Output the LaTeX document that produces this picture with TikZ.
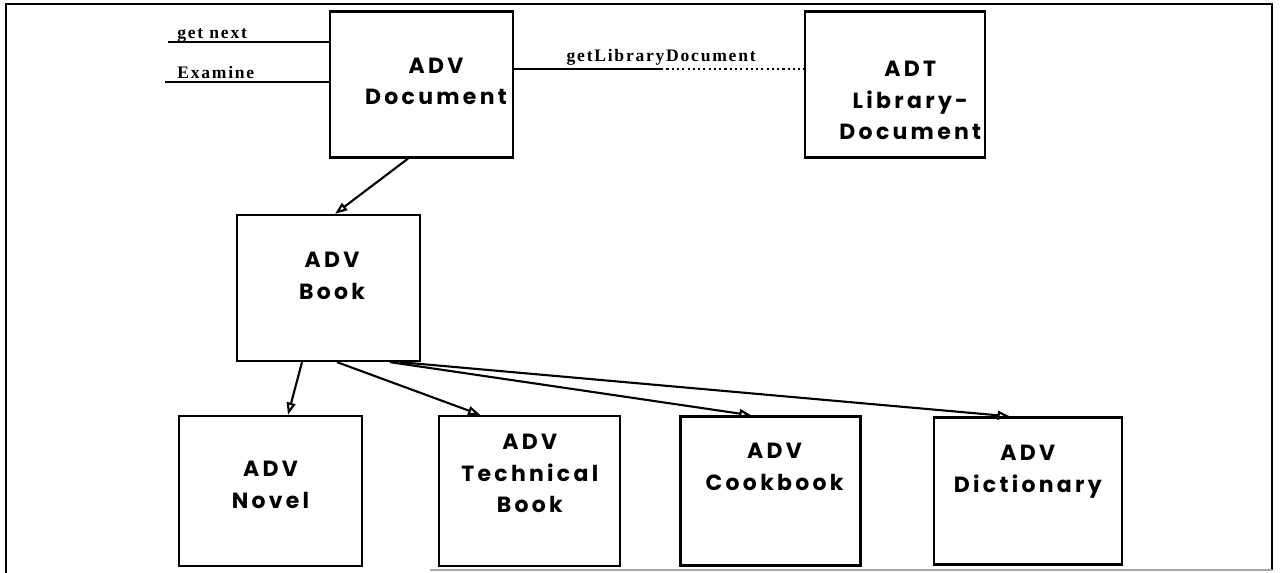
\documentclass[tikz,border=0pt]{standalone}
\usepackage{fontspec}
\setmainfont{Liberation Serif}
\newfontfamily\boxfont{Poppins}[LetterSpace=15]
\newfontfamily\callfont{Liberation Serif}[LetterSpace=10]
\usetikzlibrary{arrows.meta,positioning}

\begin{document}
\begin{tikzpicture}[
  box/.style={draw, line width=1.3pt, minimum width=3.66cm, minimum height=2.92cm},
  boxtext/.style={align=center, inner sep=0pt, font=\boxfont\bfseries\fontsize{12.5}{18}\selectfont},
  call/.style={font=\callfont\bfseries\fontsize{10}{12}\selectfont, inner sep=0pt, anchor=base west},
  wire/.style={line width=1.1pt},
  arr/.style={-{Triangle[open, length=7pt, width=5pt]}, line width=1.2pt},
  frame/.style={line width=1.1pt}
]

\useasboundingbox (0,0) rectangle (25.6,11.46);

\draw[frame] (0.12,0) -- (0.12,11.38) -- (25.44,11.38) -- (25.44,0.06);
\draw[frame, gray!70, line width=0.6pt] (8.6,0.06) -- (25.44,0.06);

% upper row
\node[box] (doc) at (8.43,9.77) {};
\node[box, minimum width=3.6cm, right=5.8cm of doc] (lib) {};

\node[box] (book) at (6.57,5.70) {};

% lower row
\node[box, minimum height=3cm] (novel) at (5.41,1.64) {};
\node[box, minimum width=3.62cm, minimum height=3cm, right=1.5cm of novel] (tech) {};
\node[box, minimum width=3.6cm, minimum height=2.98cm, right=1.16cm of tech] (cook) {};
\node[box, minimum width=3.76cm, minimum height=2.94cm, right=1.42cm of cook] (dict) {};

\node[boxtext] (doctxt) at ([xshift=0.29cm, yshift=0.06cm]doc.center) {ADV\\Document};
\node[boxtext] (libtxt) at ([xshift=0.3cm, yshift=-0.32cm]lib.center) {ADT\\Library-\\Document};
\node[boxtext] (booktxt) at ([xshift=0.07cm, yshift=0.24cm]book.center) {ADV\\Book};
\node[boxtext] (noveltxt) at ([yshift=0.12cm]novel.center) {ADV\\Novel};
\node[boxtext] (techtxt) at ([yshift=0.35cm]tech.center) {ADV\\Technical\\Book};
\node[boxtext] (cooktxt) at ([xshift=0.08cm, yshift=0.48cm]cook.center) {ADV\\Cookbook};
\node[boxtext] (dicttxt) at ([yshift=0.38cm]dict.center) {ADV\\Dictionary};

% calls into the document
\coordinate (nextend) at (3.36,10.62);
\coordinate (examend) at (3.30,9.82);
\draw[wire] (nextend) -- (nextend -| doc.west);
\draw[wire] (examend) -- (examend -| doc.west);
\node[call] (nextlbl) at ([xshift=0.18cm, yshift=0.06cm]nextend) {get next};
\node[call] (examlbl) at ([xshift=0.24cm, yshift=0.06cm]examend) {Examine};

\coordinate (callout) at ([yshift=0.31cm]doc.east);
\coordinate (split) at ([xshift=2.94cm]callout);
\draw[wire] (callout) -- (split);
\draw[wire, dash pattern=on 1.2pt off 1.8pt] (split) -- (split -| lib.west);
\node[call, anchor=base] (getlbl) at ([yshift=0.14cm]split) {getLibraryDocument};

% inheritance
\draw[arr] ([xshift=-0.27cm]doc.south) -- ([xshift=0.13cm]book.north);
\draw[arr] ([xshift=-0.53cm]book.south) -- ([xshift=0.35cm]novel.north);
\draw[arr] ([xshift=0.17cm]book.south) -- ([xshift=-0.99cm]tech.north);
\draw[arr] ([xshift=1.23cm]book.south) -- ([xshift=-0.38cm]cook.north);
\draw[arr] ([xshift=1.43cm]book.south) -- ([xshift=-0.36cm]dict.north);

\end{tikzpicture}
\end{document}
